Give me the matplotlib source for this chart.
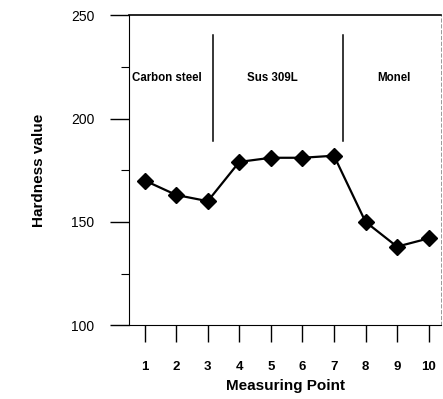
import matplotlib
matplotlib.use('Agg')
import matplotlib.pyplot as plt

points = [1, 2, 3, 4, 5, 6, 7, 8, 9, 10]
hardness = [170, 163, 160, 179, 181, 181, 182, 150, 138, 142]
regions = ['Carbon steel', 'Sus 309L', 'Monel']
region_x = [1.7, 5.05, 8.9]
divider_x = [3.15, 7.3]

plt.rcParams['font.family'] = ['Liberation Sans', 'DejaVu Sans']

fig = plt.figure(figsize=(4.43, 3.99), dpi=100)
ax = fig.add_axes([0.291, 0.185, 0.705, 0.777])

ax.plot(points, hardness, color='black', lw=1.6, marker='D', markersize=8.5)

for xd in divider_x:
    ax.plot([xd, xd], [189, 240.5], color='black', lw=1.1)
for name, xr in zip(regions, region_x):
    ax.text(xr, 219.5, name, ha='center', va='center', fontsize=8.3, fontweight='bold')

ax.set_xlim(0.5, 10.4)
ax.set_ylim(100, 250)
ax.set_xticks(points)
ax.set_yticks([100, 150, 200, 250])
ax.set_yticks([125, 175, 225], minor=True)
ax.tick_params(axis='x', direction='out', length=12, width=1, pad=14, labelsize=9.5)
ax.tick_params(axis='y', which='major', direction='out', length=14, width=1, pad=11, labelsize=10)
ax.tick_params(axis='y', which='minor', direction='out', length=6, width=0.8)
for lab in ax.get_xticklabels():
    lab.set_fontweight('bold')

ax.spines['right'].set_linestyle((0, (4, 3)))
ax.spines['right'].set_linewidth(0.6)
ax.spines['right'].set_color('#888888')
ax.spines['top'].set_linewidth(1.2)

ax.set_xlabel('Measuring Point', fontsize=11, fontweight='bold', labelpad=4)
ax.set_ylabel('Hardness value', fontsize=11, fontweight='bold', labelpad=18)

fig.savefig('out.png', dpi=100)
